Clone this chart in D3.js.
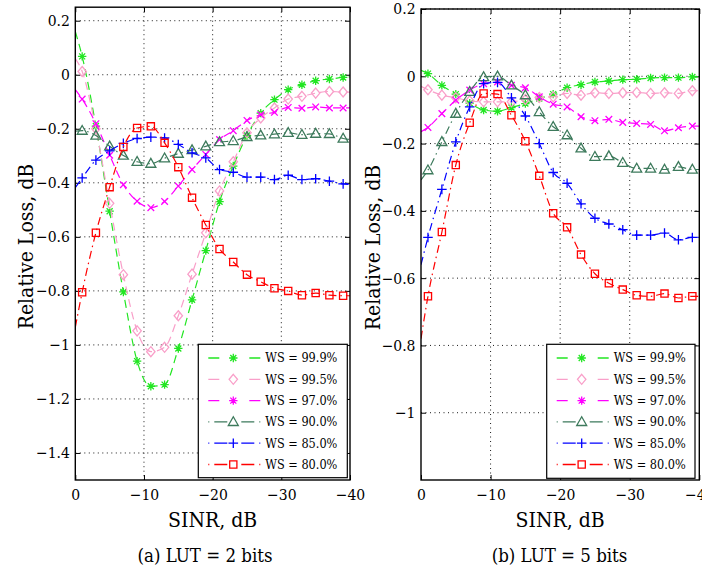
<!DOCTYPE html>
<html>
<head>
<meta charset="utf-8">
<script src="https://cdn.jsdelivr.net/npm/d3@7/dist/d3.min.js"></script>
<style>
  html, body { margin: 0; padding: 0; background: #fff; }
  svg { display: block; }
  svg text { font-stretch: condensed; }
</style>
</head>
<body>
<svg id="chart" width="726" height="571"></svg>
<script>
// SINR sample points (dB). Markers sit on the odd values; the two ends carry the line to the axes.
const sinr = [0, -1, -3, -5, -7, -9, -11, -13, -15, -17, -19, -21, -23, -25, -27, -29, -31, -33, -35, -37, -39, -40];

const seriesNames = ["WS = 99.9%", "WS = 99.5%", "WS = 97.0%", "WS = 90.0%", "WS = 85.0%", "WS = 80.0%"];

// (a) LUT = 2 bits — relative loss, dB
const lut2_ws999 = [0.16, 0.068, -0.19, -0.505, -0.804, -1.06, -1.153, -1.147, -1.013, -0.833, -0.651, -0.47, -0.338, -0.225, -0.142, -0.092, -0.055, -0.037, -0.022, -0.016, -0.01, -0.008];
const lut2_ws995 = [0.06, 0.012, -0.2, -0.476, -0.74, -0.948, -1.025, -1.009, -0.892, -0.738, -0.585, -0.43, -0.322, -0.215, -0.16, -0.123, -0.09, -0.08, -0.068, -0.062, -0.064, -0.064];
const lut2_ws970 = [-0.055, -0.09, -0.181, -0.298, -0.407, -0.468, -0.492, -0.469, -0.412, -0.351, -0.295, -0.24, -0.207, -0.169, -0.148, -0.139, -0.121, -0.124, -0.119, -0.123, -0.123, -0.123];
const lut2_ws900 = [-0.209, -0.207, -0.225, -0.265, -0.299, -0.322, -0.329, -0.309, -0.292, -0.279, -0.265, -0.249, -0.245, -0.23, -0.224, -0.22, -0.215, -0.222, -0.218, -0.219, -0.236, -0.24];
const lut2_ws850 = [-0.418, -0.382, -0.316, -0.282, -0.254, -0.236, -0.231, -0.234, -0.258, -0.289, -0.308, -0.351, -0.361, -0.379, -0.379, -0.388, -0.372, -0.388, -0.385, -0.394, -0.404, -0.406];
const lut2_ws800 = [-0.935, -0.805, -0.585, -0.416, -0.267, -0.197, -0.191, -0.252, -0.342, -0.455, -0.556, -0.645, -0.693, -0.74, -0.766, -0.79, -0.8, -0.816, -0.808, -0.816, -0.818, -0.818];

// (b) LUT = 5 bits — relative loss, dB
const lut5_ws999 = [0.018, 0.008, -0.027, -0.053, -0.08, -0.1, -0.104, -0.093, -0.081, -0.066, -0.053, -0.034, -0.025, -0.017, -0.014, -0.01, -0.009, -0.005, -0.004, -0.004, -0.002, -0.002];
const lut5_ws995 = [-0.03, -0.04, -0.056, -0.064, -0.073, -0.076, -0.076, -0.076, -0.069, -0.063, -0.061, -0.051, -0.056, -0.049, -0.051, -0.049, -0.048, -0.051, -0.049, -0.051, -0.043, -0.043];
const lut5_ws970 = [-0.165, -0.152, -0.111, -0.071, -0.041, -0.022, -0.017, -0.027, -0.034, -0.061, -0.083, -0.091, -0.12, -0.132, -0.128, -0.137, -0.14, -0.143, -0.162, -0.153, -0.148, -0.148];
const lut5_ws900 = [-0.308, -0.279, -0.195, -0.111, -0.046, -0.002, 0.0, -0.027, -0.056, -0.106, -0.15, -0.175, -0.214, -0.239, -0.237, -0.257, -0.274, -0.274, -0.277, -0.269, -0.277, -0.277];
const lut5_ws850 = [-0.56, -0.479, -0.336, -0.195, -0.091, -0.022, -0.018, -0.064, -0.118, -0.2, -0.286, -0.318, -0.379, -0.422, -0.439, -0.456, -0.472, -0.472, -0.466, -0.486, -0.479, -0.479];
const lut5_ws800 = [-0.78, -0.654, -0.463, -0.264, -0.138, -0.051, -0.053, -0.116, -0.193, -0.296, -0.407, -0.449, -0.53, -0.587, -0.615, -0.634, -0.651, -0.654, -0.646, -0.659, -0.654, -0.654];

// Tick values and their printed labels
const xTicks = [0, -10, -20, -30, -40];
const xTickLabels = ["0", "\u221210", "\u221220", "\u221230", "\u221240"];
const yTicksA = [0.2, 0, -0.2, -0.4, -0.6, -0.8, -1, -1.2, -1.4];
const yTickLabelsA = ["0.2", "0", "\u22120.2", "\u22120.4", "\u22120.6", "\u22120.8", "\u22121", "\u22121.2", "\u22121.4"];
const yTicksB = [0.2, 0, -0.2, -0.4, -0.6, -0.8, -1];
const yTickLabelsB = ["0.2", "0", "\u22120.2", "\u22120.4", "\u22120.6", "\u22120.8", "\u22121"];

// Per-series appearance
const colors = ["#22e622", "#f99fc9", "#ff00ff", "#3d7a5c", "#0000ff", "#ff0000"];
const markers = ["asterisk", "diamond", "x", "triangle", "plus", "square"];
const legendMarkers = ["asterisk", "diamond", "asterisk", "triangle", "plus", "square"];
const dashes = ["8,5", "8,5", "8,5", "8,4,1.5,4", "8,4,1.5,4", "8,4,1.5,4"];
const legendDashes = ["11,30,11", "11,30,11", "11,30,11", "1,5,13,14,13,5,1", "1,5,13,14,13,5,1", "1,5,13,14,13,5,1"];

const FONT = "'DejaVu Serif', 'Liberation Serif', serif";
const FS = { tick: 15.5, legend: 12.6, title: 21, caption: 18.5 };

const markerPaths = {
  square: "M-3.6,-3.6H3.6V3.6H-3.6Z",
  diamond: "M0,-5L4.2,0L0,5L-4.2,0Z",
  triangle: "M0,-5.2L5,3.6L-5,3.6Z",
  plus: "M-4.8,0H4.8M0,-4.8V4.8",
  x: "M-3.3,-3.3L3.3,3.3M-3.3,3.3L3.3,-3.3",
  asterisk: "M-4.2,0H4.2M0,-4.2V4.2M-3,-3L3,3M-3,3L3,-3"
};

const svg = d3.select("#chart").attr("font-family", FONT);

function label(sel, size) {
  return sel.attr("font-family", FONT).style("font-family", FONT)
    .style("font-stretch", "condensed")
    .attr("font-size", size).style("font-size", size + "px").attr("fill", "#000");
}

function drawPanel(cfg) {
  const g = svg.append("g");
  const x = d3.scaleLinear().domain([0, -40]).range([cfg.left, cfg.right]);
  const y = d3.scaleLinear().domain(cfg.yDomain).range([cfg.bottom, cfg.top]);

  if (cfg.clipRight) {
    const cid = cfg.id + "-outer";
    svg.append("clipPath").attr("id", cid).append("rect")
      .attr("x", 0).attr("y", 0).attr("width", cfg.clipRight).attr("height", 571);
    g.attr("clip-path", "url(#" + cid + ")");
  }

  // dotted grid
  const grid = g.append("g").attr("stroke", "#000").attr("stroke-width", 0.9).attr("stroke-dasharray", "1,3.5");
  xTicks.slice(1, -1).forEach(t => {
    grid.append("line").attr("x1", x(t)).attr("x2", x(t)).attr("y1", cfg.top).attr("y2", cfg.bottom);
  });
  cfg.yTicks.forEach(t => {
    grid.append("line").attr("x1", cfg.left).attr("x2", cfg.right).attr("y1", y(t)).attr("y2", y(t));
  });

  // axes: bottom / left labelled, ticks drawn inward on all four sides
  const xAxis = d3.axisBottom(x).tickValues(xTicks).tickSize(-5).tickPadding(9)
    .tickFormat((d, i) => xTickLabels[i]);
  const xAxisTop = d3.axisTop(x).tickValues(xTicks).tickSize(-5).tickFormat("");
  const yAxis = d3.axisLeft(y).tickValues(cfg.yTicks).tickSize(-5).tickPadding(5.5)
    .tickFormat((d, i) => cfg.yTickLabels[i]);
  const yAxisRight = d3.axisRight(y).tickValues(cfg.yTicks).tickSize(-5).tickFormat("");

  const styleAxis = sel => {
    sel.attr("font-family", FONT).attr("font-size", FS.tick);
    sel.select(".domain").remove();
    sel.selectAll(".tick line").attr("stroke", "#000").attr("stroke-width", 1);
    sel.selectAll(".tick text").call(label, FS.tick);
  };
  g.append("g").attr("transform", `translate(0,${cfg.bottom})`).call(xAxis).call(styleAxis);
  g.append("g").attr("transform", `translate(0,${cfg.top})`).call(xAxisTop).call(styleAxis);
  g.append("g").attr("transform", `translate(${cfg.left},0)`).call(yAxis).call(styleAxis);
  g.append("g").attr("transform", `translate(${cfg.right},0)`).call(yAxisRight).call(styleAxis);

  // data lines and markers, clipped to the plotting box
  const clipId = cfg.id + "-clip";
  svg.append("clipPath").attr("id", clipId).append("rect")
    .attr("x", cfg.left).attr("y", cfg.top).attr("width", cfg.right - cfg.left).attr("height", cfg.bottom - cfg.top);
  const plot = g.append("g").attr("clip-path", "url(#" + clipId + ")");

  const line = d3.line().x(d => x(d[0])).y(d => y(d[1])).curve(d3.curveMonotoneX);

  cfg.series.forEach((vals, i) => {
    const pts = sinr.map((s, j) => [s, vals[j]]);
    plot.append("path").datum(pts)
      .attr("d", line)
      .attr("fill", "none")
      .attr("stroke", colors[i])
      .attr("stroke-width", 1.2)
      .attr("stroke-dasharray", dashes[i]);
    plot.append("g").selectAll("path")
      .data(pts.slice(1, -1))
      .join("path")
      .attr("transform", d => `translate(${x(d[0])},${y(d[1])})`)
      .attr("d", markerPaths[markers[i]])
      .attr("fill", "none")
      .attr("stroke", colors[i])
      .attr("stroke-width", 1.3);
  });

  // axes box
  g.append("rect")
    .attr("x", cfg.left).attr("y", cfg.top)
    .attr("width", cfg.right - cfg.left).attr("height", cfg.bottom - cfg.top)
    .attr("fill", "none").attr("stroke", "#000").attr("stroke-width", 1.4);

  // legend
  const lg = g.append("g");
  lg.append("rect")
    .attr("x", cfg.legend.x).attr("y", cfg.legend.y)
    .attr("width", cfg.legend.w).attr("height", cfg.legend.h)
    .attr("fill", "#fff").attr("stroke", "#000").attr("stroke-width", 1.2);
  seriesNames.forEach((name, i) => {
    const ry = cfg.legend.y + 13.7 + i * 21.3;
    const lx0 = cfg.legend.x + 10, lx1 = lx0 + 52;
    lg.append("line").attr("x1", lx0).attr("x2", lx1).attr("y1", ry).attr("y2", ry)
      .attr("stroke", colors[i]).attr("stroke-width", 1.3)
      .attr("stroke-dasharray", legendDashes[i]);
    lg.append("path")
      .attr("transform", `translate(${lx0 + 25},${ry})`)
      .attr("d", markerPaths[legendMarkers[i]])
      .attr("fill", "none").attr("stroke", colors[i]).attr("stroke-width", 1.3);
    lg.append("text").attr("x", lx0 + 57).attr("y", ry).attr("dy", "0.35em")
      .call(label, FS.legend).text(name);
  });

  // axis titles and caption
  g.append("text")
    .attr("transform", `translate(${cfg.yLabelX},${(cfg.top + cfg.bottom) / 2 + 3}) rotate(-90)`)
    .attr("text-anchor", "middle").call(label, FS.title)
    .text("Relative Loss, dB");
  g.append("text")
    .attr("x", (cfg.left + cfg.right) / 2).attr("y", 527)
    .attr("text-anchor", "middle").call(label, FS.title)
    .text("SINR, dB");
  g.append("text")
    .attr("x", cfg.captionX).attr("y", 562)
    .attr("text-anchor", "middle").call(label, FS.caption)
    .text(cfg.caption);
}

drawPanel({
  id: "lut2",
  left: 75.3, right: 350, top: 7.2, bottom: 480,
  yDomain: [-1.5, 0.25],
  yTicks: yTicksA, yTickLabels: yTickLabelsA,
  series: [lut2_ws999, lut2_ws995, lut2_ws970, lut2_ws900, lut2_ws850, lut2_ws800],
  legend: { x: 198.3, y: 344.3, w: 149, h: 133.4 },
  yLabelX: 33,
  captionX: 205,
  caption: "(a) LUT = 2 bits"
});

drawPanel({
  id: "lut5",
  left: 421, right: 699.3, top: 9, bottom: 480,
  yDomain: [-1.2, 0.2],
  yTicks: yTicksB, yTickLabels: yTickLabelsB,
  series: [lut5_ws999, lut5_ws995, lut5_ws970, lut5_ws900, lut5_ws850, lut5_ws800],
  legend: { x: 546.7, y: 344.3, w: 148.3, h: 134 },
  yLabelX: 380,
  captionX: 559.5,
  caption: "(b) LUT = 5 bits",
  clipRight: 702
});
</script>
</body>
</html>
